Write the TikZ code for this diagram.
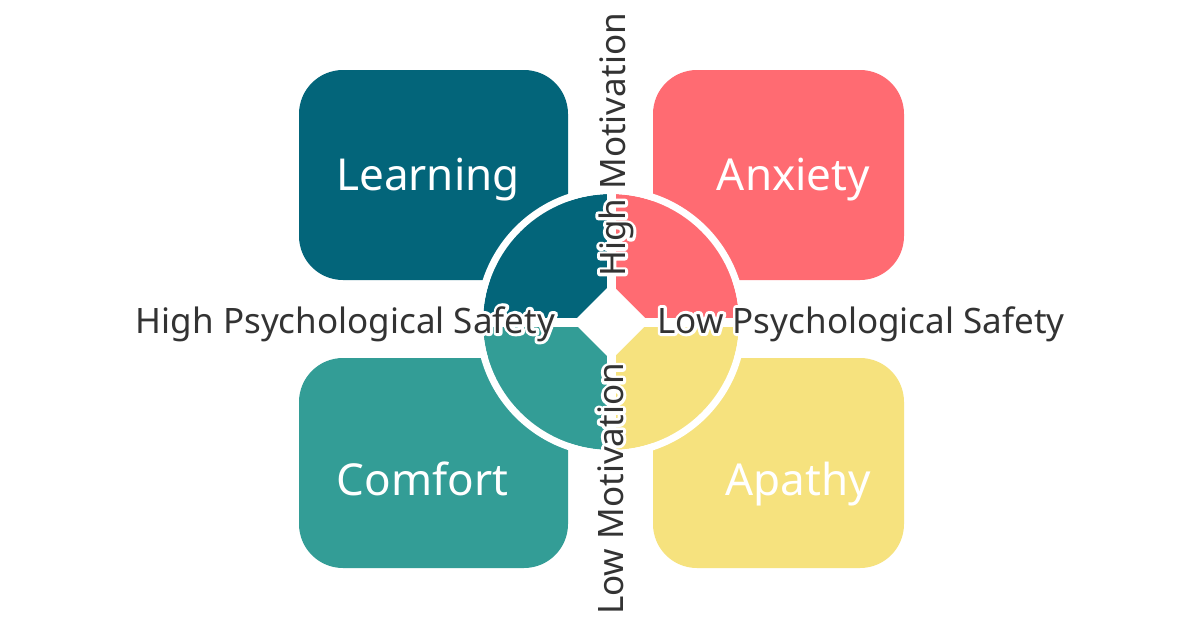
\documentclass[tikz,border=0pt]{standalone}
\usepackage{fontspec}
\setmainfont{Noto Sans}
\usepackage{tikz}
\usetikzlibrary{positioning}
\usepackage{xcolor}
\definecolor{LearnB} {RGB}{3,  101, 122}
\definecolor{AnxR}   {RGB}{255,107, 114}
\definecolor{ComfT}  {RGB}{51, 157, 150}
\definecolor{ApathY} {RGB}{246,226, 126}
\definecolor{InkG}   {RGB}{51,  51,  51}
\newcommand{\halo}[1]{%
  \rlap{\textcolor{white}{\special{pdf:code q 1 1 1 RG 6 w 1 j 2 Tr}#1\special{pdf:code Q}}}%
  #1}

\begin{document}
\begin{tikzpicture}[x=1pt,y=-1pt,
    quadbox/.style={rounded corners=44pt,minimum width=#1,minimum height=210pt,inner sep=0pt},
    boxlbl/.style={text=white,font=\fontsize{44}{52}\selectfont,anchor=base,inner sep=0pt},
    axislbl/.style={text=InkG,font=\fontsize{35}{42}\selectfont,anchor=base,inner sep=0pt}]
  \fill[white] (0,0) rectangle (1200,627);
  \useasboundingbox (0,0) rectangle (1200,627);
  % four quadrant boxes
  \node[quadbox=269pt,fill=LearnB] (learning) at (433.5,175) {};
  \node[quadbox=251pt,fill=AnxR]   (anxiety)  at (778.5,175) {};
  \node[quadbox=269pt,fill=ComfT]  (comfort)  at (433.5,463) {};
  \node[quadbox=251pt,fill=ApathY] (apathy)   at (778.5,463) {};
  \node[boxlbl] (tlearn) at (428,190) {Learning};
  \node[boxlbl] (tanx)   at (793.5,190) {Anxiety};
  \node[boxlbl] (tcomf)  at (422.5,495) {Comfort};
  \node[boxlbl] (tapa)   at (798,495) {Apathy};
  % centre disc
  \coordinate (c) at (611,322);
  \begin{scope}
    \clip (c) circle (128pt);
    \fill[LearnB] (c) rectangle (470,180);
    \fill[AnxR]   (c) rectangle (750,180);
    \fill[ComfT]  (c) rectangle (470,460);
    \fill[ApathY] (c) rectangle (750,460);
  \end{scope}
  \fill[white] (c) ++(-4.5,-140) rectangle ++(9,280);
  \fill[white] (c) ++(-140,-4.5) rectangle ++(280,9);
  \fill[white] (c) ++(-38,0) -- ++(38,-38) -- ++(38,38) -- ++(-38,38) -- cycle;
  \draw[white,line width=7pt] (c) circle (131.5pt);
  % axis labels
  \node[axislbl] (hps) at (345.5,333) {\halo{High Psychological Safety}};
  \node[axislbl] (lps) at (861,333) {\halo{Low Psychological Safety}};
  \node[axislbl,rotate=90] (hmot) at (625,145) {\halo{High Motivation}};
  \node[axislbl,rotate=90] (lmot) at (623,489) {\halo{Low Motivation}};
\end{tikzpicture}
\end{document}
